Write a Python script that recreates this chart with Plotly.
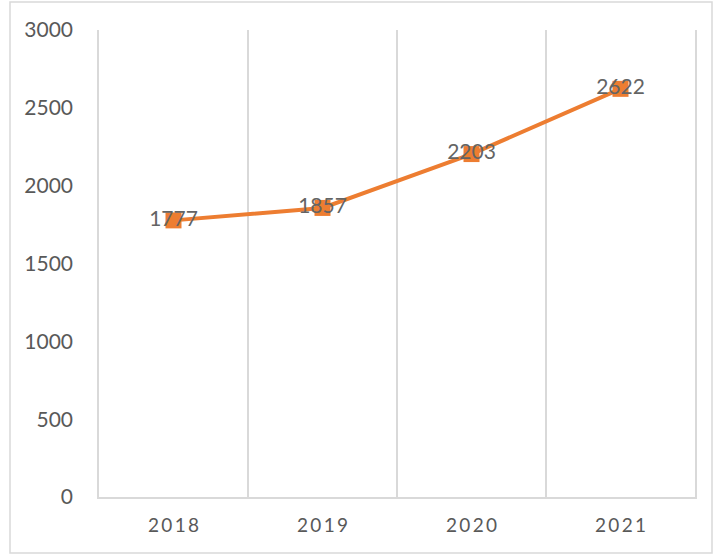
import plotly.graph_objects as go

years = ["2018", "2019", "2020", "2021"]
values = [1777, 1857, 2203, 2622]
year_ticks = ["2\u20090\u20091\u20098", "2\u20090\u20091\u20099", "2\u20090\u20092\u20090", "2\u20090\u20092\u20091"]
y_ticks = [0, 500, 1000, 1500, 2000, 2500, 3000]

orange = "#ED7D31"
gray_text = "#595959"
grid = "#D9D9D9"

fig = go.Figure()
fig.add_trace(go.Scatter(
    x=years, y=values,
    mode="lines+markers+text",
    line=dict(color=orange, width=4),
    marker=dict(symbol="square", size=16, color=orange),
    text=[str(v) for v in values],
    textposition="middle center",
    textfont=dict(family="Lato, Liberation Sans, sans-serif", size=21, color="#646464"),
    cliponaxis=False,
    showlegend=False,
))

fig.update_layout(
    width=717, height=557,
    margin=dict(l=99, r=22, t=30, b=60),
    paper_bgcolor="white", plot_bgcolor="white",
    font=dict(family="Lato, Liberation Sans, sans-serif", color=gray_text),
    xaxis=dict(
        type="category",
        tickvals=years, ticktext=year_ticks,
        tickson="boundaries",
        showgrid=True, gridcolor=grid, gridwidth=1.5,
        showline=True, linecolor=grid, linewidth=1.5,
        ticks="", tickfont=dict(size=19, color=gray_text),
        ticklabelstandoff=10,
        range=[-0.5, 3.5],
    ),
    yaxis=dict(
        range=[0, 3000], tickvals=y_ticks,
        showgrid=False, zeroline=False,
        showline=True, mirror=True, linecolor=grid, linewidth=1.5,
        ticks="", tickfont=dict(size=21, color=gray_text),
        ticklabelstandoff=20,
    ),
    shapes=[dict(
        type="rect", xref="paper", yref="paper",
        x0=(10 - 99) / 596, x1=(712 - 99) / 596,
        y0=(497 - 553) / 467, y1=(497 - 2) / 467,
        line=dict(color=grid, width=1.5), fillcolor="rgba(0,0,0,0)",
        layer="below",
    )],
)

fig.write_html(
    "out.html",
    config={"displayModeBar": False},
    post_script="document.body.style.margin='0';document.body.style.overflow='hidden';",
)
